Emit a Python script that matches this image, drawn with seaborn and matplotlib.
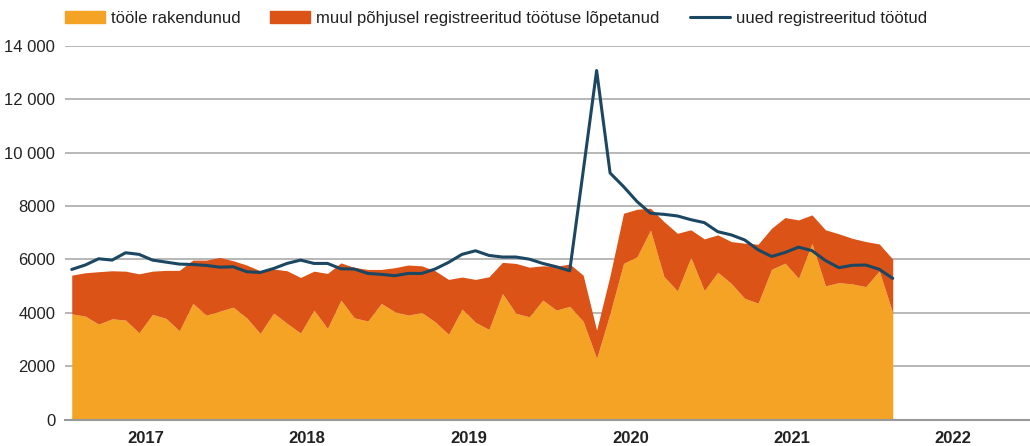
import numpy as np
import pandas as pd
import seaborn as sns
import matplotlib
matplotlib.use("Agg")
from matplotlib import pyplot as plt
from matplotlib.patches import Patch
from matplotlib.lines import Line2D

# monthly values, January 2017 - February 2022
toole_rakendunud = [
    3960, 3875, 3575, 3775, 3725, 3250, 3940, 3790, 3325, 4350, 3910, 4060,
    4210, 3810, 3225, 3990, 3600, 3240, 4100, 3410, 4475, 3810, 3690, 4350,
    4040, 3910, 4010, 3660, 3190, 4140, 3640, 3375, 4725, 3980, 3850, 4475,
    4100, 4240, 3680, 2290, 3980, 5850, 6100, 7100, 5360, 4820, 6070, 4830,
    5520, 5100, 4540, 4360, 5630, 5860, 5290, 6600, 5010, 5130, 5080, 4980,
    5570, 3990,
]
muul_pohjusel = [
    1450, 1625, 1965, 1800, 1835, 2210, 1620, 1800, 2265, 1625, 2065, 2015,
    1740, 1980, 2350, 1650, 1975, 2085, 1460, 2065, 1395, 1890, 1935, 1275,
    1650, 1880, 1750, 1915, 2060, 1200, 1610, 1975, 1165, 1870, 1860, 1285,
    1640, 1590, 1730, 1060, 1420, 1880, 1780, 820, 2060, 2160, 1040, 1940,
    1400, 1570, 2070, 2210, 1540, 1710, 2190, 1070, 2100, 1830, 1710, 1690,
    1010, 2020,
]
uued_tootud = [
    5625, 5790, 6025, 5975, 6250, 6190, 5975, 5900, 5825, 5810, 5775, 5710,
    5725, 5540, 5510, 5660, 5850, 5975, 5850, 5850, 5650, 5640, 5475, 5440,
    5390, 5475, 5475, 5640, 5890, 6190, 6325, 6150, 6090, 6090, 6010, 5850,
    5725, 5575, 9300, 13080, 9240, 8730, 8170, 7730, 7690, 7630, 7490, 7380,
    7040, 6920, 6730, 6360, 6110, 6260, 6460, 6330, 5960, 5690, 5780, 5790,
    5630, 5290,
]
years = ["2017", "2018", "2019", "2020", "2021", "2022"]
y_ticks = [0, 2000, 4000, 6000, 8000, 10000, 12000, 14000]

labels = [
    "tööle rakendunud",
    "muul põhjusel registreeritud töötuse lõpetanud",
    "uued registreeritud töötud",
]
colors = ["#f4a324", "#dc5318", "#1c4762"]

sns.set_theme(style="white")
plt.rcParams["font.family"] = ["Liberation Sans", "DejaVu Sans"]

df = pd.DataFrame({
    "kuu": np.arange(len(toole_rakendunud)),
    "toole": toole_rakendunud,
    "muul": muul_pohjusel,
    "uued": uued_tootud,
})

fig = plt.figure(figsize=(10.3, 4.46), dpi=100)
ax = fig.add_axes([65 / 1030, 26.5 / 446, 965 / 1030, 373.5 / 446])

# stacked areas
ax.stackplot(df["kuu"], df["toole"], df["muul"], colors=colors[:2], lw=0, zorder=2)
# new registered unemployed
sns.lineplot(data=df, x="kuu", y="uued", color=colors[2], lw=2.2, ax=ax, zorder=3)

ax.set_xlim(-0.5, 71.2)
ax.set_ylim(0, 14000)
ax.set_xlabel("")
ax.set_ylabel("")

# y axis
ax.set_yticks(y_ticks)
ax.set_yticklabels([f"{v:,}".replace(",", " ") if v >= 10000 else str(v) for v in y_ticks])
ax.yaxis.grid(True, color="#aaaaaa", lw=1.2)
ax.set_axisbelow(True)
ax.tick_params(axis="y", length=0, pad=7, labelsize=12, labelcolor="#222222")

# x axis: year boundaries as ticks, year names in the middle
ax.set_xticks([-0.5 + 12 * k for k in range(len(years))])
ax.set_xticklabels([])
ax.set_xticks([5.5 + 12 * k for k in range(len(years))], minor=True)
ax.set_xticklabels(years, minor=True, fontweight="bold", fontsize=12, color="#222222")
ax.tick_params(axis="x", which="major", direction="in", length=9, width=1.2, color="#999999")
ax.tick_params(axis="x", which="minor", length=0, pad=8)

for side in ["top", "right", "left"]:
    ax.spines[side].set_visible(False)
ax.spines["bottom"].set_color("#999999")
ax.spines["bottom"].set_linewidth(1.5)
ax.spines["bottom"].set_zorder(4)

handles = [
    Patch(color=colors[0]),
    Patch(color=colors[1]),
    Line2D([], [], color=colors[2], lw=2.2),
]
leg = fig.legend(handles, labels, loc="upper left", bbox_to_anchor=(65 / 1030, 0.975),
                 ncol=3, frameon=False, fontsize=12, handlelength=2.4,
                 handletextpad=0.35, columnspacing=1.8, borderpad=0, borderaxespad=0)
for t in leg.get_texts():
    t.set_color("#222222")

plt.savefig("out.png", dpi=100)
